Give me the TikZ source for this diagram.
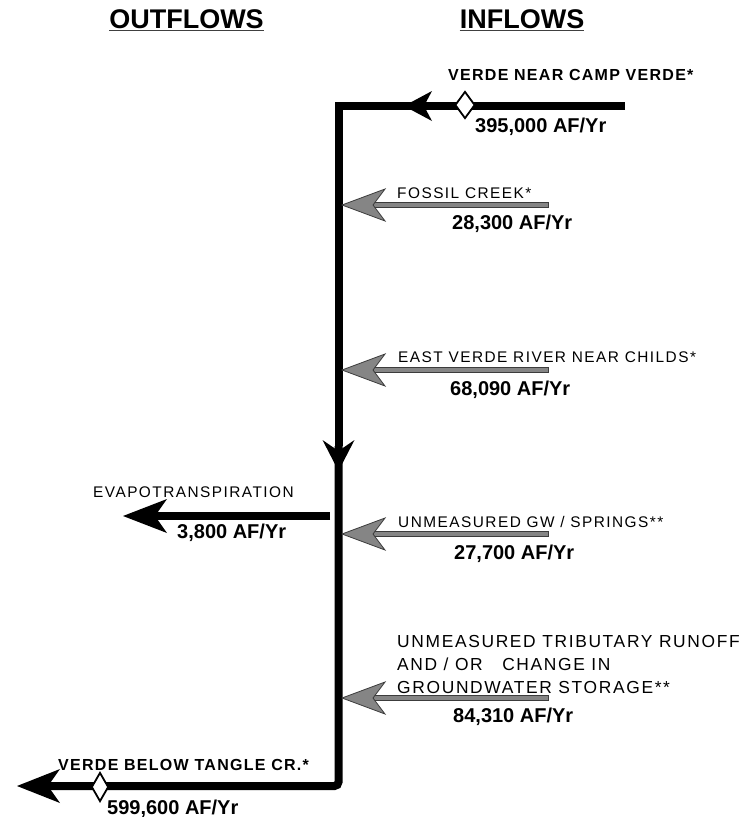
\documentclass[tikz,border=0pt]{standalone}
\usepackage{fontspec}
\setmainfont{Liberation Sans}
\newfontfamily\lblfont[LetterSpace=9.5]{Liberation Sans}
\newfontfamily\ttlfont[LetterSpace=8]{Liberation Sans}
\usetikzlibrary{shapes.geometric,calc}
\definecolor{flowgray}{HTML}{858585}
\definecolor{edgegray}{HTML}{3C3C3C}
\begin{document}
\begin{tikzpicture}[x=1pt,y=-1pt,
  lbl/.style={anchor=base west, inner sep=0pt, font=\lblfont\fontsize{15.4}{18}\selectfont},
  lblbig/.style={anchor=base west, inner sep=0pt, font=\lblfont\fontsize{17.4}{20}\selectfont},
  val/.style={anchor=base west, inner sep=0pt, font=\bfseries\fontsize{20}{24}\selectfont},
  ttl/.style={anchor=base west, inner sep=0pt, font=\ttlfont\bfseries\fontsize{16}{19}\selectfont},
  hdr/.style={anchor=base, inner sep=0pt, font=\bfseries\fontsize{27}{32}\selectfont},
  river/.style={line width=8pt, line cap=butt, line join=miter},
  gauge/.style={diamond, draw=black, fill=white, line width=1.8pt, minimum width=20pt, minimum height=27pt, inner sep=0pt, aspect=0.7},
  pics/ahead/.style args={#1/#2/#3}{code={\fill[black] (0,0) -- (#1,-#2) -- (#3,0) -- (#1,#2) -- cycle;}},
  pics/inflow/.style={code={
    \filldraw[fill=flowgray, draw=edgegray, line width=0.8pt] (31,-2.6) rectangle (206,2.6);
    \filldraw[fill=flowgray, draw=edgegray, line width=0.8pt] (0,0) -- (43,-16) -- (31,0) -- (43,16) -- cycle;}}
]
\useasboundingbox (0,0) rectangle (753,817);

% headers
\node[hdr] (hout) at (186.5,28) {OUTFLOWS};
\node[hdr] (hin) at (522,28) {INFLOWS};
\draw[line width=1.4pt, black!75] ([yshift=-2.4pt]hout.base west) -- ([yshift=-2.4pt]hout.base east);
\draw[line width=1.4pt, black!75] ([yshift=-2.4pt]hin.base west) -- ([yshift=-2.4pt]hin.base east);

% main river
\coordinate (topR) at (625,106);
\coordinate (topL) at (338.5,106);
\coordinate (botC) at (338.5,786);
\coordinate (botE) at (45,786);
\coordinate (midV) at ($(topL)!0.5!(botC)$);
\draw[river] (topR) -- (topL) -- (midV);
\draw[river, rounded corners=4pt] (midV) -- (botC) -- (botE);
\pic at (404,106) {ahead=28/15/20};
\pic[rotate=90] at (338.5,471) {ahead=31/16/20};
\pic at (17,786) {ahead=43/17/31};

\node[gauge] (g1) at (465,105) {};
\node[gauge, minimum width=17pt, minimum height=29pt, aspect=0.6] (g2) at (100,787) {};

% top inflow labels
\node[ttl] (t1) at (448,80) {VERDE NEAR CAMP VERDE*};
\node[val] (v1) at (475,132) {395,000 AF/Yr};

% outflow labels
\node[ttl] (t2) at (58,770) {VERDE BELOW TANGLE CR.*};
\node[val] (v2) at (107,814) {599,600 AF/Yr};

% evapotranspiration
\coordinate (evS) at (330,516);
\coordinate (evE) at (150,516);
\draw[river] (evS) -- (evE);
\pic at (123,516) {ahead=44/17/32};
\node[lbl] (t3) at (93,497) {EVAPOTRANSPIRATION};
\node[val] (v3) at (177,538) {3,800 AF/Yr};

% inflow arrows
\pic at (342,205) {inflow};
\node[lbl] (t4) at (397,198) {FOSSIL CREEK*};
\node[val] (v4) at (452,229) {28,300 AF/Yr};

\pic at (342,370) {inflow};
\node[lbl] (t5) at (398,362) {EAST VERDE RIVER NEAR CHILDS*};
\node[val] (v5) at (450,395) {68,090 AF/Yr};

\pic at (342,534) {inflow};
\node[lbl] (t6) at (398,527) {UNMEASURED GW / SPRINGS**};
\node[val] (v6) at (454,559) {27,700 AF/Yr};

\pic at (342,698) {inflow};
\node[lblbig] (t7) at (397,647) {UNMEASURED TRIBUTARY RUNOFF};
\node[lblbig] (t8) at (397,670) {AND / OR\ \ \ CHANGE IN};
\node[lblbig] (t9) at (397,693) {GROUNDWATER STORAGE**};
\node[val] (v7) at (453,722) {84,310 AF/Yr};
\end{tikzpicture}
\end{document}
